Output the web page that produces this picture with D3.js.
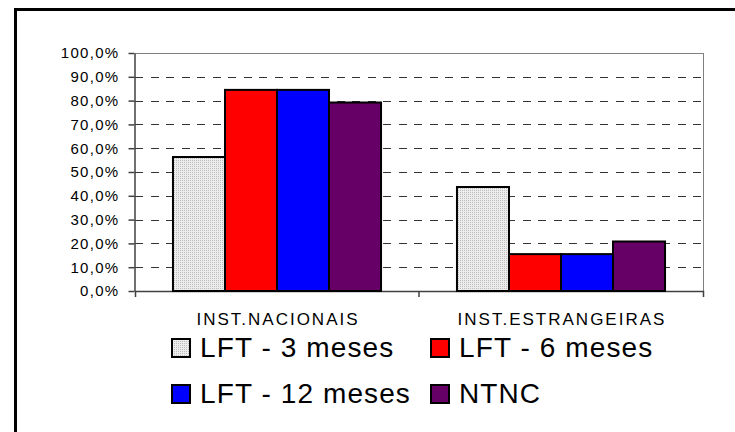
<!doctype html>
<html lang="pt">
  <head>
    <meta charset="UTF-8" />
    <title>LFT / NTNC por tipo de instituição</title>
    <script src="https://d3js.org/d3.v7.min.js"></script>
    <style>
      body {
        margin: 0;
        padding: 0;
        background: #fff;
        font-family: 'Liberation Sans', Arial, sans-serif;
      }
      .tick-label {
        font-family: 'Liberation Sans', Arial, sans-serif;
        font-size: 15px;
        letter-spacing: 1.3px;
        fill: #000;
      }
      .cat-label {
        font-family: 'Liberation Sans', Arial, sans-serif;
        font-size: 17px;
        letter-spacing: 2px;
        fill: #000;
      }
      .legend-item {
        font-family: 'Liberation Sans', Arial, sans-serif;
        font-size: 28px;
        letter-spacing: 1.1px;
        fill: #000;
      }
    </style>
  </head>
  <body>
    <div id="chart"></div>
    <script>
      // categories and series
      const categories = ['INST.NACIONAIS', 'INST.ESTRANGEIRAS']
      const series = ['LFT - 3 meses', 'LFT - 6 meses', 'LFT - 12 meses', 'NTNC']
      const lft3 = [56.3, 43.7]
      const lft6 = [84.5, 15.5]
      const lft12 = [84.5, 15.5]
      const ntnc = [79.2, 20.8]
      const yTicks = [0, 10, 20, 30, 40, 50, 60, 70, 80, 90, 100]

      const values = [lft3, lft6, lft12, ntnc]
      const colors = ['url(#dots)', '#ff0000', '#0000ff', '#660066']

      const W = 735
      const H = 432
      const plot = { left: 135, right: 703, top: 53, bottom: 291 }

      const svg = d3
        .select('#chart')
        .append('svg')
        .attr('width', W)
        .attr('height', H)

      // dotted grey fill for the first series
      const pat = svg
        .append('defs')
        .append('pattern')
        .attr('id', 'dots')
        .attr('width', 2)
        .attr('height', 2)
        .attr('patternUnits', 'userSpaceOnUse')
      pat.append('rect').attr('width', 2).attr('height', 2).attr('fill', '#ededed')
      pat.append('rect').attr('width', 1).attr('height', 1).attr('fill', '#bcbcbc')

      // outer frame (runs off the right and bottom edges)
      svg
        .append('rect')
        .attr('x', 15.5)
        .attr('y', 9.5)
        .attr('width', 800)
        .attr('height', 600)
        .attr('fill', 'none')
        .attr('stroke', '#000')
        .attr('stroke-width', 3)

      const x = d3.scaleBand().domain(categories).range([plot.left, plot.right])
      const xs = d3
        .scaleBand()
        .domain(series)
        .range([0, x.bandwidth()])
        .paddingOuter(0.73)
      const y = d3.scaleLinear().domain([0, 100]).range([plot.bottom, plot.top])

      // dashed gridlines
      svg
        .append('g')
        .selectAll('line')
        .data(yTicks.filter((d) => d > 0 && d < 100))
        .join('line')
        .attr('x1', plot.left)
        .attr('x2', plot.right)
        .attr('y1', (d) => Math.round(y(d)) + 0.5)
        .attr('y2', (d) => Math.round(y(d)) + 0.5)
        .attr('stroke', '#333')
        .attr('stroke-dasharray', '8,7.5')
        .attr('shape-rendering', 'crispEdges')

      // plot frame top and right
      svg
        .append('path')
        .attr('d', `M${plot.left},${plot.top + 0.5}H${plot.right + 0.5}V${plot.bottom}`)
        .attr('fill', 'none')
        .attr('stroke', '#808080')
        .attr('shape-rendering', 'crispEdges')

      // y axis
      svg
        .append('g')
        .attr('transform', `translate(${plot.left - 0.5},0)`)
        .call(
          d3
            .axisLeft(y)
            .tickValues(yTicks)
            .tickSize(6)
            .tickSizeOuter(0)
            .tickFormat((d) => d.toFixed(1).replace('.', ',') + '%')
        )
        .call((g) => g.attr('font-family', null).attr('font-size', null))
        .call((g) => g.selectAll('line, path').attr('stroke', '#404040').attr('stroke-width', 1.5))
        .call((g) => g.selectAll('text').attr('class', 'tick-label').attr('x', -15))

      // x axis line with outer ticks
      svg
        .append('g')
        .attr('transform', `translate(0,${plot.bottom})`)
        .call(d3.axisBottom(x).tickValues([]).tickSizeOuter(6))
        .call((g) => g.select('.domain').attr('stroke', '#404040').attr('stroke-width', 1.5))

      // tick between the two categories
      svg
        .append('g')
        .selectAll('line')
        .data([x(categories[1])])
        .join('line')
        .attr('x1', (d) => d)
        .attr('x2', (d) => d)
        .attr('y1', plot.bottom)
        .attr('y2', plot.bottom + 6)
        .attr('stroke', '#404040')
        .attr('stroke-width', 1.5)

      // category labels
      svg
        .append('g')
        .selectAll('text')
        .data(categories)
        .join('text')
        .attr('class', 'cat-label')
        .attr('x', (d) => x(d) + x.bandwidth() / 2 + 1)
        .attr('y', 325)
        .attr('text-anchor', 'middle')
        .text((d) => d)

      // bars
      series.forEach((s, i) => {
        svg
          .append('g')
          .selectAll('rect')
          .data(categories)
          .join('rect')
          .attr('x', (d) => x(d) + xs(s))
          .attr('y', (d, j) => y(values[i][j]))
          .attr('width', xs.bandwidth())
          .attr('height', (d, j) => y(0) - y(values[i][j]))
          .attr('fill', colors[i])
          .attr('stroke', '#000')
          .attr('stroke-width', 2)
      })

      // legend, two columns
      const legendX = [172, 431]
      const legendY = [339, 385]
      const legend = svg
        .append('g')
        .selectAll('g')
        .data(series)
        .join('g')
        .attr('transform', (d, i) => `translate(${legendX[i % 2]},${legendY[Math.floor(i / 2)]})`)

      legend
        .append('rect')
        .attr('width', 18)
        .attr('height', 18)
        .attr('fill', (d, i) => colors[i])
        .attr('stroke', '#000')
        .attr('stroke-width', 2)

      legend
        .append('text')
        .attr('class', 'legend-item')
        .attr('x', 28)
        .attr('y', 18)
        .text((d) => d)
    </script>
  </body>
</html>
